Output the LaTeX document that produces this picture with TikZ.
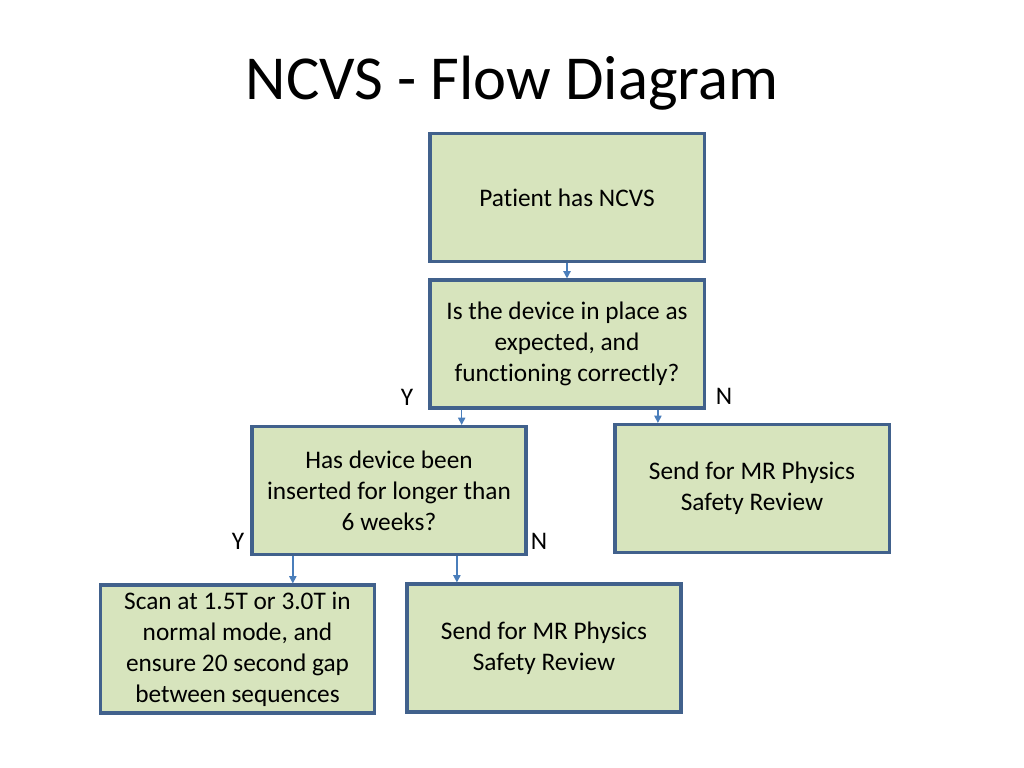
\documentclass[tikz,border=0pt]{standalone}
\usepackage{fontspec}
\setmainfont[Ligatures=NoCommon]{Carlito}
\usetikzlibrary{arrows.meta,calc}
\definecolor{boxfill}{HTML}{D7E4BD}
\definecolor{boxline}{HTML}{41618C}
\definecolor{arrline}{HTML}{4A7EBB}
\begin{document}
\begin{tikzpicture}[x=0.025cm,y=-0.025cm,
 every node/.style={font=\fontsize{18}{22}\selectfont},
 b/.style={draw=boxline,fill=boxfill,line width=2.2pt,minimum width=6.85cm,minimum height=3.2cm,align=center,inner sep=0pt},
 arr/.style={-{Triangle[length=1.8mm,width=1.8mm]},arrline,line width=1pt},
 lbl/.style={inner sep=0pt}]
\useasboundingbox (0,0) rectangle (1024,768);
\node[font=\fontsize{44.5}{50}\selectfont,anchor=base] (title) at (512,100) {NCVS - Flow Diagram};
\node[b] (start) at (567,197.5) {Patient has NCVS};
\node[b] (ask) at (567,344) {Is the device in place as\\expected, and\\functioning correctly?};
\node[b] (weeks) at (389,490.5) {Has device been\\inserted for longer than\\6 weeks?};
\node[b] (rev1) at (752,488.5) {Send for MR Physics\\Safety Review};
\node[b] (scan) at (237.5,649) {Scan at 1.5T or 3.0T in\\normal mode, and\\ensure 20 second gap\\between sequences};
\node[b] (rev2) at (544,648) {Send for MR Physics\\Safety Review};
\node[lbl] (y1) at (407,397) {Y};
\node[lbl] (n1) at (724,396) {N};
\node[lbl] (y2) at (238,541) {Y};
\node[lbl] (n2) at (539,541) {N};
\draw[arr] (start) -- (ask);
\draw[arr] ($(ask.south west)!.12!(ask.south east)$) coordinate (a1) -- (a1 |- weeks.north);
\draw[arr] ($(ask.south west)!.828!(ask.south east)$) coordinate (a2) -- (a2 |- rev1.north);
\draw[arr] ($(weeks.south west)!.153!(weeks.south east)$) coordinate (a3) -- (a3 |- scan.north);
\draw[arr] ($(weeks.south west)!.745!(weeks.south east)$) coordinate (a4) -- (a4 |- rev2.north);
\end{tikzpicture}
\end{document}
